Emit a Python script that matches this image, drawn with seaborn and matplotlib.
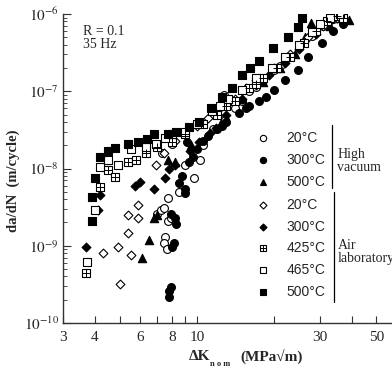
import numpy as np
import pandas as pd
import matplotlib
matplotlib.use("Agg")
import matplotlib.pyplot as plt
import seaborn as sns
from matplotlib.lines import Line2D

sns.set_style("ticks")
plt.rcParams['font.family'] = ['Liberation Serif', 'DejaVu Serif']
plt.rcParams['mathtext.fontset'] = 'stix'

# --- data: (Delta K, da/dN) ---
vac20_k = [7.0, 7.2, 7.7, 7.5, 7.4, 7.6, 7.9, 7.7, 7.4, 8.5, 9.0, 9.7, 10.3, 10.5, 7.3, 8.0,
           11.5, 12.9, 12.7, 14, 15, 16, 17, 18, 20, 21, 22, 25, 28, 31, 34]
vac20_y = [2.6e-9, 2.9e-9, 2.1e-9, 1.3e-9, 1.1e-9, 9e-10, 2.3e-9, 4.2e-9, 3.1e-9, 5e-9, 1.1e-8, 7.5e-9,
           1.3e-8, 2e-8, 1.6e-8, 2.1e-8, 3.2e-8, 4.2e-8, 9e-8, 6e-8, 7.5e-8, 1e-7, 1.15e-7, 1.4e-7,
           1.9e-7, 2.1e-7, 2.6e-7, 3.8e-7, 5.2e-7, 7e-7, 8.5e-7]

vac300_k = [7.8, 7.8, 7.9, 8.0, 8.1, 7.9, 8.3, 8.2, 9.0, 9.0, 8.5, 8.7, 9.3, 9.6, 10.0, 9.1, 10.5,
            11, 12, 12.5, 13, 14.5, 15.5, 16, 17.5, 18.5, 20, 22, 24.7, 27, 30.6, 34, 37]
vac300_y = [2.6e-10, 2.2e-10, 2.9e-10, 9.6e-10, 1.1e-9, 2.6e-9, 1.9e-9, 2.3e-9, 4.8e-9, 5.5e-9, 6.5e-9,
            8e-9, 1.2e-8, 1.4e-8, 1.8e-8, 2.2e-8, 2.3e-8, 2.6e-8, 3.2e-8, 3.6e-8, 4e-8, 5.2e-8, 6e-8,
            6.5e-8, 7.5e-8, 8.5e-8, 1.05e-7, 1.4e-7, 1.9e-7, 2.8e-7, 4.2e-7, 6e-7, 7.5e-7]

vac500_k = [6.1, 6.5, 6.8, 7.0, 8.2, 7.7, 9.5, 12.4, 15, 18, 21, 24, 26.3, 27.7, 33, 36, 39]
vac500_y = [7e-10, 1.2e-9, 2.3e-9, 2.5e-9, 1.2e-8, 1.3e-8, 2e-8, 3.9e-8, 8e-8, 1.3e-7, 2e-7, 3e-7,
            5e-7, 7.6e-7, 7e-7, 9e-7, 8.4e-7]

air20_k = [5.0, 4.3, 4.9, 5.5, 5.4, 5.4, 5.9, 5.9, 6.9, 7.4, 8.2, 10, 11, 12, 14, 15.5, 17, 20, 23,
           27, 31, 35]
air20_y = [3.2e-10, 8e-10, 9.6e-10, 7.5e-10, 1.45e-9, 2.5e-9, 2.3e-9, 3.4e-9, 1.1e-8, 1.6e-8, 2.3e-8,
           3.5e-8, 4.5e-8, 5.5e-8, 8e-8, 1.1e-7, 1.4e-7, 2e-7, 3e-7, 5e-7, 7e-7, 9e-7]

air300_k = [3.7, 4.1, 4.2, 5.7, 6.0, 6.8, 7.5, 7.8, 8.2, 9.4, 10.2, 11.2, 11.8, 13, 15, 17, 19, 22,
            25, 29, 33, 37]
air300_y = [9.6e-10, 2.9e-9, 4.5e-9, 6e-9, 6.6e-9, 5.5e-9, 7.5e-9, 1e-8, 1.1e-8, 1.7e-8, 2.2e-8,
            2.9e-8, 3.3e-8, 5e-8, 8e-8, 1.2e-7, 1.6e-7, 2.3e-7, 3.5e-7, 5.5e-7, 8e-7, 8.5e-7]

air425_k = [3.7, 4.2, 4.5, 4.8, 5.4, 5.8, 6.3, 7.0, 8.0, 9, 10.5, 12, 13, 14, 16, 17, 18, 20.5, 23,
            26, 29, 32, 35, 37]
air425_y = [4.4e-10, 5.7e-9, 9.5e-9, 7.7e-9, 1.2e-8, 1.3e-8, 1.6e-8, 1.9e-8, 2.2e-8, 2.8e-8, 3.8e-8,
            5e-8, 6.5e-8, 7.5e-8, 1.1e-7, 1.25e-7, 1.5e-7, 2e-7, 2.8e-7, 4.2e-7, 6e-7, 8e-7, 9.5e-7, 9e-7]

air465_k = [3.72, 4.0, 4.2, 4.5, 4.9, 5.5, 6.3, 6.9, 7.5, 8.0, 9, 10, 11.4, 12.3, 13.2, 15, 17, 19.5,
            22, 25, 28, 30, 33, 36]
air465_y = [6.1e-10, 2.9e-9, 1.05e-8, 1.3e-8, 1.1e-8, 1.8e-8, 1.9e-8, 2.1e-8, 2.5e-8, 2.8e-8, 3e-8,
            3.8e-8, 5.5e-8, 6.5e-8, 8e-8, 1.05e-7, 1.5e-7, 2e-7, 2.8e-7, 4e-7, 5.8e-7, 7.5e-7, 9e-7, 1e-6]

air500_k = [3.9, 3.9, 4.0, 4.2, 4.5, 4.8, 5.4, 5.9, 6.4, 6.8, 7.7, 8.3, 9.3, 10.2, 11.3, 12.5, 13.7,
            15, 16.1, 17.5, 19.8, 22.6, 24.8, 25.7]
air500_y = [2.1e-9, 4.3e-9, 7.5e-9, 1.4e-8, 1.7e-8, 1.85e-8, 2.1e-8, 2.2e-8, 2.4e-8, 2.8e-8, 2.8e-8,
            3e-8, 3.4e-8, 4e-8, 6e-8, 8.5e-8, 1.1e-7, 1.6e-7, 2e-7, 2.5e-7, 3.6e-7, 5e-7, 6.8e-7, 9e-7]

labels = ["20°C", "300°C", "500°C", "20°C", "300°C", "425°C", "465°C", "500°C"]
series = [
    (vac20_k, vac20_y, 'o', 'white', 32),
    (vac300_k, vac300_y, 'o', 'black', 32),
    (vac500_k, vac500_y, '^', 'black', 36),
    (air20_k, air20_y, 'D', 'white', 20),
    (air300_k, air300_y, 'D', 'black', 20),
    (air425_k, air425_y, 's', 'white', 30),
    (air465_k, air465_y, 's', 'white', 30),
    (air500_k, air500_y, 's', 'black', 30),
]

fig = plt.figure(figsize=(3.92, 3.69), dpi=100)
ax = fig.add_axes([63 / 392, 1 - 323 / 369, 329 / 392, 309 / 369])

for k, y, m, fc, s in series:
    df = pd.DataFrame({'K': k, 'dadn': y})
    sns.scatterplot(data=df, x='K', y='dadn', marker=m, s=s, color=fc,
                    edgecolor='black', linewidth=0.8, ax=ax, zorder=3)
# cross inside the 425 C squares
sns.scatterplot(x=air425_k, y=air425_y, marker='+', s=30, color='black',
                linewidth=0.7, ax=ax, zorder=4)

ax.set_xscale('log')
ax.set_yscale('log')
ax.set_xlim(3, 57.5)
ax.set_ylim(1e-10, 1e-6)
sns.despine(ax=ax)

ax.set_xticks([3, 4, 5, 6, 7, 8, 9, 10, 20, 30, 40, 50])
ax.set_xticklabels(['3', '4', '', '6', '', '8', '', '10', '', '30', '', '50'])
ax.xaxis.set_minor_locator(matplotlib.ticker.NullLocator())
ax.set_yticks([1e-10, 1e-9, 1e-8, 1e-7, 1e-6])
ax.set_yticklabels([r'$10^{-10}$', r'$10^{-9}$', r'$10^{-8}$', r'$10^{-7}$', r'$10^{-6}$'])
ax.yaxis.set_minor_locator(matplotlib.ticker.LogLocator(base=10, subs=np.arange(2, 10)))
ax.yaxis.set_minor_formatter(matplotlib.ticker.NullFormatter())
ax.tick_params(axis='both', which='both', direction='in', labelsize=11, color='#333333')
ax.tick_params(axis='x', which='major', length=5, pad=6)
ax.tick_params(axis='y', which='major', length=6, pad=3)
ax.tick_params(axis='y', which='minor', length=3)
for sp in ax.spines.values():
    sp.set_linewidth(1.0)
    sp.set_color('#333333')
ax.set_xlabel('')
ax.set_ylabel('da/dN  (m/cycle)', fontweight='bold', fontsize=10.5)
ax.yaxis.set_label_coords(-0.132, 0.46)

fig.text(189 / 392, 1 - 356 / 369, 'ΔK', fontweight='bold', fontsize=11, va='center')
fig.text(210 / 392, 1 - 364 / 369, 'n o m', fontweight='bold', fontsize=6, va='center')
fig.text(240 / 392, 1 - 356 / 369, '(MPa√m)', fontweight='bold', fontsize=11, va='center')

ax.text(0.061, 0.965, 'R = 0.1\n35 Hz', transform=ax.transAxes, fontsize=10,
        va='top', ha='left', linespacing=1.0)

# legend drawn by hand
rows_y = [0.599, 0.528, 0.456, 0.382, 0.311, 0.243, 0.172, 0.100]
for (k, y, m, fc, s), lab, ry in zip(series, labels, rows_y):
    ax.add_line(Line2D([0.608], [ry], marker=m, markersize=np.sqrt(s) * 0.8,
                       markerfacecolor=fc, markeredgecolor='black', markeredgewidth=0.8,
                       linestyle='none', transform=ax.transAxes, clip_on=False))
    ax.text(0.680, ry, lab, transform=ax.transAxes, fontsize=10, va='center', ha='left',
            family=['Liberation Sans', 'DejaVu Sans'])
ax.add_line(Line2D([0.608], [rows_y[5]], marker='+', markersize=np.sqrt(30) * 0.8,
                   color='black', markeredgewidth=0.7, linestyle='none',
                   transform=ax.transAxes, clip_on=False))
ax.add_line(Line2D([0.818, 0.818], [0.641, 0.437], color='black', lw=0.9,
                   transform=ax.transAxes, clip_on=False))
ax.add_line(Line2D([0.824, 0.824], [0.424, 0.068], color='black', lw=0.9,
                   transform=ax.transAxes, clip_on=False))
ax.text(0.834, 0.524, 'High\nvacuum', transform=ax.transAxes, fontsize=10,
        va='center', ha='left', linespacing=0.95)
ax.text(0.834, 0.23, 'Air\nlaboratory', transform=ax.transAxes, fontsize=10,
        va='center', ha='left', linespacing=0.95)

fig.savefig('out.png', dpi=100)
